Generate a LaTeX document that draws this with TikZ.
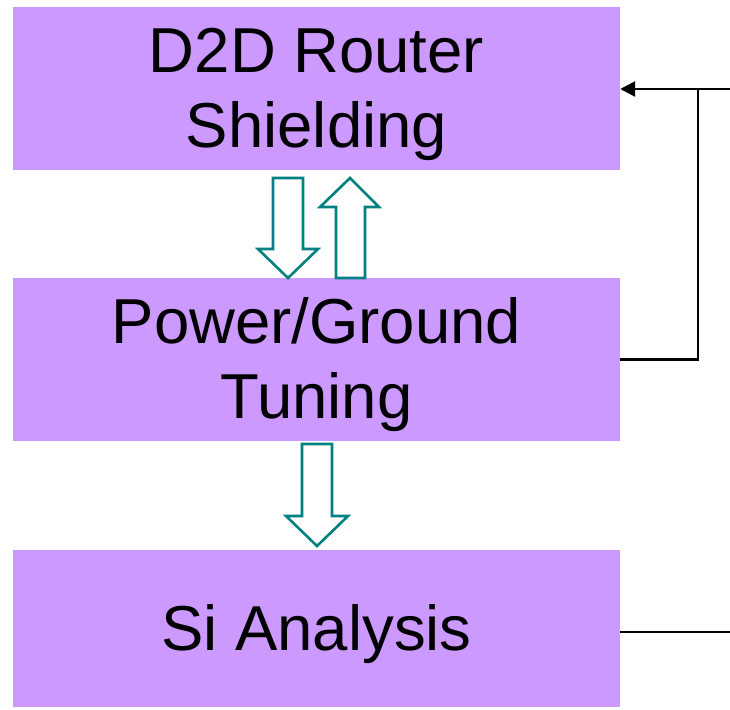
\documentclass[tikz,border=0pt]{standalone}
\usepackage{fontspec}
\setmainfont{Liberation Sans}
\usetikzlibrary{arrows.meta}
\definecolor{boxfill}{HTML}{CC99FF}
\definecolor{teal2}{HTML}{008080}
\begin{document}
\begin{tikzpicture}[x=1pt,y=-1pt,
  blk/.style={fill=boxfill,draw=none,minimum width=607pt,inner sep=0pt,align=center,
    font=\fontsize{63.5}{75}\selectfont},
  lbl/.style={inner sep=0pt,align=center,font=\fontsize{63.5}{75}\selectfont},
  hollow/.style={draw=teal2,line width=2.6pt,fill=white,line join=miter},
  conn/.style={draw=black,line width=2.6pt}]
\useasboundingbox (0,0) rectangle (730,709);
\node[blk,minimum height=163pt] (b1) at (316.5,88.5) {};
\node[blk,minimum height=163pt] (b2) at (316.5,359.5) {};
\node[blk,minimum height=157pt] (b3) at (316.5,628.5) {};
\node[lbl] (t1) at (316.5,94) {D2D Router\\Shielding};
\node[lbl] (t2) at (316.5,365) {Power/Ground\\Tuning};
\node[lbl] (t3) at (316.5,634) {Si Analysis};
% hollow block arrows
\draw[hollow] (273,178) -- (303,178) -- (303,249) -- (318,249) -- (288,278) -- (258,249) -- (273,249) -- cycle;
\draw[hollow] (336,278) -- (365,278) -- (365,207) -- (379,207) -- (350,178) -- (320,207) -- (336,207) -- cycle;
\draw[hollow] (302,444) -- (332,444) -- (332,516) -- (348,516) -- (317,546) -- (286,516) -- (302,516) -- cycle;
% connectors
\coordinate (r1) at (730,89);
\coordinate (k1) at (698,89);
\coordinate (r3) at (730,632);
\draw[conn,-{Triangle[length=15pt,width=15pt]}] (r1) -- (b1.east |- r1);
\draw[conn] (b2.east) -| (k1);
\draw[conn] (b3.east |- r3) -- (r3);
\end{tikzpicture}
\end{document}
